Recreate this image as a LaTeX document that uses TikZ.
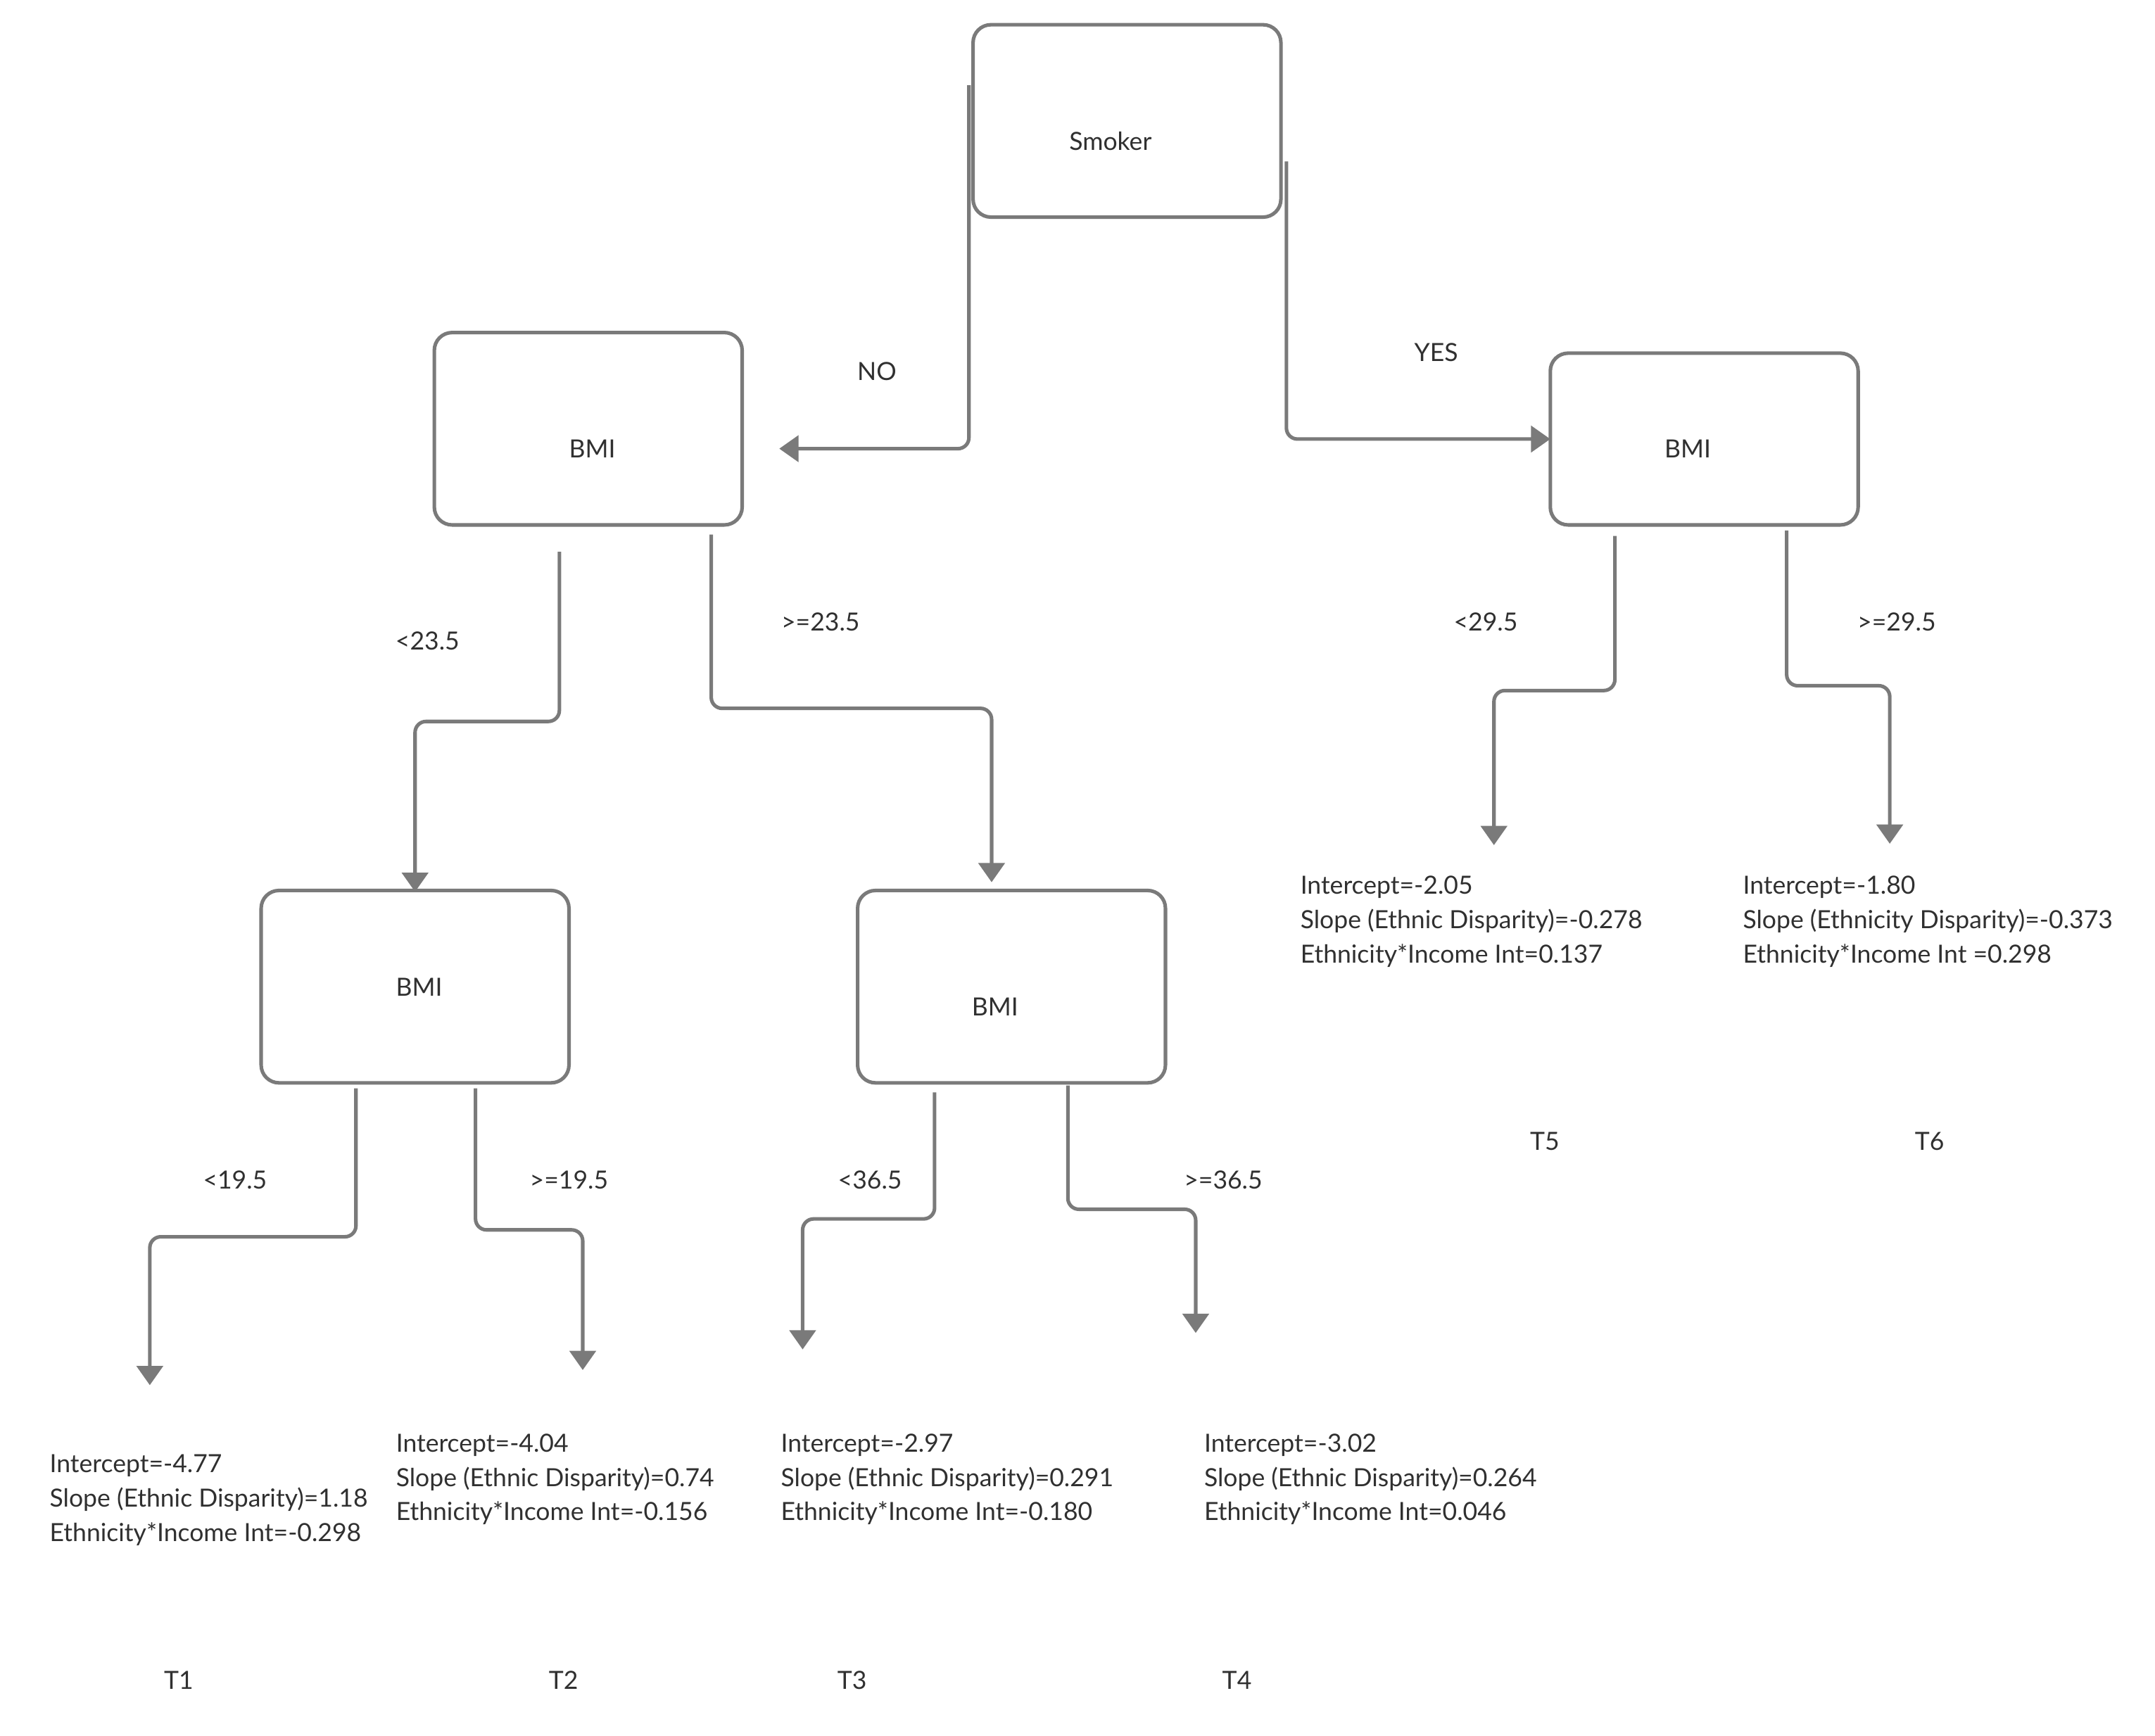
\documentclass[tikz,border=0pt]{standalone}
\usepackage{fontspec}
\setmainfont{Lato}
\usetikzlibrary{arrows.meta}
\definecolor{linegray}{HTML}{7A7A7A}
\definecolor{txtgray}{HTML}{303030}
\begin{document}
\begin{tikzpicture}[x=1pt,y=-1pt,
  box/.style={draw=linegray, line width=2.6pt, rounded corners=13pt, minimum width=224pt, minimum height=140pt, inner sep=0pt},
  txt/.style={text=txtgray, inner sep=0pt, font=\fontsize{18.2}{25}\selectfont, yshift=-1.5pt},
  blk/.style={txt, anchor=west, align=left},
  conn/.style={draw=linegray, line width=2.6pt, rounded corners=8pt, -{Triangle[width=19pt,length=14pt]}}
]
\useasboundingbox[fill=white] (0,0) rectangle (1568,1262.8);

% boxes
\node[box] (smoker) at (820,88) {};
\node[box] (bmiL) at (428,312) {};
\node[box, minimum height=125pt] (bmiR) at (1240,319.5) {};
\node[box] (bmiA) at (302,718) {};
\node[box] (bmiB) at (736,718) {};

% box texts
\node[txt] (smokerT) at (808,101) {Smoker};
\node[txt] (bmiLT) at (431,325) {BMI};
\node[txt] (bmiRT) at (1228,325) {BMI};
\node[txt] (bmiAT) at (305,717) {BMI};
\node[txt] (bmiBT) at (724,731) {BMI};

% connector end points
\coordinate (noS) at (705,62);
\coordinate (noE) at (567,326.5);
\coordinate (yesS) at (936,117.5);
\coordinate (yesE) at (1128,319.5);
\coordinate (aS) at (407,401.5);
\coordinate (aE) at (302,649);
\coordinate (bS) at (517.5,389);
\coordinate (bE) at (721.5,642);
\coordinate (cS) at (259,792);
\coordinate (cE) at (109,1008);
\coordinate (dS) at (346,792);
\coordinate (dE) at (424,997);
\coordinate (eS) at (680,795);
\coordinate (eE) at (584,982);
\coordinate (fS) at (777,790);
\coordinate (fE) at (870,970);
\coordinate (gS) at (1175,390);
\coordinate (gE) at (1087,615);
\coordinate (hS) at (1300,386);
\coordinate (hE) at (1375,614);

% connectors
\draw[conn] (noS) |- (noE);
\draw[conn] (yesS) |- (yesE);
\draw[conn] (aS) -- (aS |- 0,525) -- (aE |- 0,525) -- (aE);
\draw[conn] (bS) -- (bS |- 0,515.5) -- (bE |- 0,515.5) -- (bE);
\draw[conn] (cS) -- (cS |- 0,900) -- (cE |- 0,900) -- (cE);
\draw[conn] (dS) -- (dS |- 0,895) -- (dE |- 0,895) -- (dE);
\draw[conn] (eS) -- (eS |- 0,887) -- (eE |- 0,887) -- (eE);
\draw[conn] (fS) -- (fS |- 0,880) -- (fE |- 0,880) -- (fE);
\draw[conn] (gS) -- (gS |- 0,502.5) -- (gE |- 0,502.5) -- (gE);
\draw[conn] (hS) -- (hS |- 0,499) -- (hE |- 0,499) -- (hE);

% branch labels
\node[txt] (lno) at (638,269) {NO};
\node[txt] (lyes) at (1045,255) {YES};
\node[txt] (la) at (311,465) {<23.5};
\node[txt] (lb) at (597,451) {>=23.5};
\node[txt] (lc) at (171,857) {<19.5};
\node[txt] (ld) at (414,857) {>=19.5};
\node[txt] (le) at (633,857) {<36.5};
\node[txt] (lf) at (890,857) {>=36.5};
\node[txt] (lg) at (1081,451) {<29.5};
\node[txt] (lh) at (1380,451) {>=29.5};

% leaf texts
\node[blk] (t1b) at (36,1090) {Intercept=-4.77\\Slope (Ethnic Disparity)=1.18\\Ethnicity*Income Int=-0.298};
\node[blk] (t2b) at (288,1075) {Intercept=-4.04\\Slope (Ethnic Disparity)=0.74\\Ethnicity*Income Int=-0.156};
\node[blk] (t3b) at (568,1075) {Intercept=-2.97\\Slope (Ethnic Disparity)=0.291\\Ethnicity*Income Int=-0.180};
\node[blk] (t4b) at (876,1075) {Intercept=-3.02\\Slope (Ethnic Disparity)=0.264\\Ethnicity*Income Int=0.046};
\node[blk] (t5b) at (946,669) {Intercept=-2.05\\Slope (Ethnic Disparity)=-0.278\\Ethnicity*Income Int=0.137};
\node[blk] (t6b) at (1268,669) {Intercept=-1.80\\Slope (Ethnicity Disparity)=-0.373\\Ethnicity*Income Int =0.298};

% leaf names
\node[txt] (t1) at (130,1221) {T1};
\node[txt] (t2) at (410,1221) {T2};
\node[txt] (t3) at (620,1221) {T3};
\node[txt] (t4) at (900,1221) {T4};
\node[txt] (t5) at (1124,829) {T5};
\node[txt] (t6) at (1404,829) {T6};
\end{tikzpicture}
\end{document}
